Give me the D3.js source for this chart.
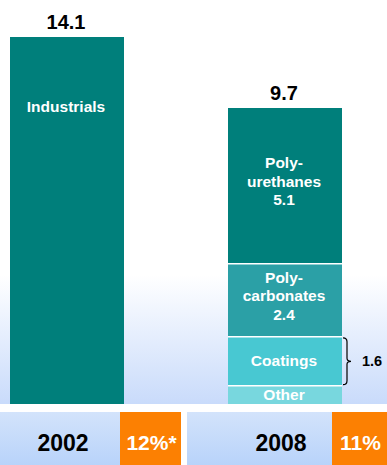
<!DOCTYPE html>
<html>
<head>
<meta charset="utf-8">
<script src="https://cdn.jsdelivr.net/npm/d3@7"></script>
<style>
  body { margin: 0; background: #fff; }
  svg { display: block; font-family: "Liberation Sans", Arial, sans-serif; font-weight: bold; }
</style>
</head>
<body>
<div id="chart-wrap"></div>
<script>
const years = ["2002", "2008"];
const totals = [14.1, 9.7];
const shares = ["12%*", "11%"];

// stacked from the bottom up
const names2002 = ["Industrials"];
const values2002 = [14.1];
const labels2002 = [["Industrials"]];

const names2008 = ["Other", "Coatings", "Polycarbonates", "Polyurethanes"];
const values2008 = [0.6, 1.6, 2.4, 5.1];
const labels2008 = [["Other"], ["Coatings"], ["Poly-", "carbonates", "2.4"], ["Poly-", "urethanes", "5.1"]];
const bracketValue = "1.6"; // Coatings

const width = 387;
const height = 465;
const base = 404;
const colors = {
  Industrials: "#007f7b",
  Polyurethanes: "#007f7b",
  Polycarbonates: "#2ba0a6",
  Coatings: "#48c8d2",
  Other: "#78d7de"
};

const svg = d3.select("#chart-wrap")
  .append("svg")
  .attr("width", width)
  .attr("height", height);

const defs = svg.append("defs");
const bg = defs.append("linearGradient").attr("id", "bg").attr("x1", 0).attr("y1", 0).attr("x2", 0).attr("y2", 1);
bg.append("stop").attr("offset", "0.68").attr("stop-color", "#ffffff");
bg.append("stop").attr("offset", "1").attr("stop-color", "#c9dbfb");
const band = defs.append("linearGradient").attr("id", "band").attr("x1", 0).attr("y1", 0).attr("x2", 0).attr("y2", 1);
band.append("stop").attr("offset", "0").attr("stop-color", "#d3e3fb");
band.append("stop").attr("offset", "1").attr("stop-color", "#b8d3fa");

svg.append("rect")
  .attr("x", 0).attr("y", 0)
  .attr("width", width).attr("height", base)
  .attr("fill", "url(#bg)");

// x positions of the bars
const x = d3.scaleBand()
  .domain(years)
  .range([10, 342])
  .paddingInner(104 / 218)
  .paddingOuter(0);

// each bar drawn against its own scale, as in the source slide
const yScales = {
  "2002": d3.scaleLinear().domain([0, totals[0]]).range([base, 37]),
  "2008": d3.scaleLinear().domain([0, totals[1]]).range([base, 108])
};

function stackOf(year, names, values, labels) {
  let acc = 0;
  return names.map((n, i) => {
    const d = { year: year, name: n, y0: acc, y1: acc + values[i], lines: labels[i] };
    acc += values[i];
    return d;
  });
}

const segs = stackOf("2002", names2002, values2002, labels2002)
  .concat(stackOf("2008", names2008, values2008, labels2008));

svg.append("g")
  .selectAll("rect")
  .data(segs)
  .join("rect")
  .attr("x", d => x(d.year))
  .attr("y", d => yScales[d.year](d.y1))
  .attr("width", x.bandwidth())
  .attr("height", d => yScales[d.year](d.y0) - yScales[d.year](d.y1))
  .attr("fill", d => colors[d.name]);

// white separators between stacked segments
svg.append("g")
  .selectAll("line")
  .data(segs.filter(d => d.y0 > 0))
  .join("line")
  .attr("x1", d => x(d.year))
  .attr("x2", d => x(d.year) + x.bandwidth())
  .attr("y1", d => yScales[d.year](d.y0))
  .attr("y2", d => yScales[d.year](d.y0))
  .attr("stroke", "#fff")
  .attr("stroke-width", 1.5);

// segment labels
const lineH = 18.5;
const segLabels = svg.append("g")
  .selectAll("text")
  .data(segs)
  .join("text")
  .attr("text-anchor", "middle")
  .attr("fill", "#fff")
  .attr("font-size", 15.5)
  .attr("transform", d => {
    const yy = yScales[d.year];
    const cx = x(d.year) + x.bandwidth() / 2 - 1;
    let cy;
    if (d.name === "Industrials") cy = yy(d.y1) + 75;
    else cy = (yy(d.y0) + yy(d.y1)) / 2 - (d.lines.length - 1) * lineH / 2 + 5 - (d.lines.length > 1 ? 4 : 0);
    return "translate(" + cx + "," + cy + ")";
  });
segLabels.selectAll("tspan")
  .data(d => d.lines)
  .join("tspan")
  .attr("x", 0)
  .attr("y", (l, i) => i * lineH)
  .text(l => l);

// totals above bars
svg.append("g")
  .selectAll("text")
  .data(years)
  .join("text")
  .attr("x", d => x(d) + x.bandwidth() / 2 - 1)
  .attr("y", (d, i) => yScales[d](totals[i]) - 8)
  .attr("text-anchor", "middle")
  .attr("font-size", 20)
  .attr("fill", "#000")
  .text((d, i) => d3.format(".1f")(totals[i]));

// bracket for Coatings
const coat = segs.find(d => d.name === "Coatings");
const yc = yScales[coat.year];
const bTop = yc(coat.y1) + 1, bBot = yc(coat.y0) - 1;
const bx = x(coat.year) + x.bandwidth() + 1;
const bMid = (bTop + bBot) / 2;
svg.append("path")
  .attr("d", `M${bx},${bTop} Q${bx + 4},${bTop} ${bx + 4},${bTop + 4} L${bx + 4},${bMid - 3} Q${bx + 4},${bMid} ${bx + 8},${bMid} Q${bx + 4},${bMid} ${bx + 4},${bMid + 3} L${bx + 4},${bBot - 4} Q${bx + 4},${bBot} ${bx},${bBot}`)
  .attr("fill", "none")
  .attr("stroke", "#000")
  .attr("stroke-width", 1.2);
svg.append("text")
  .attr("x", bx + 19)
  .attr("y", bMid + 5)
  .attr("font-size", 14.5)
  .attr("fill", "#000")
  .text(bracketValue);

// bottom band with years and shares
const bandBoxes = [[0, 181, 120], [187, 387, 332]];
const bandG = svg.append("g")
  .selectAll("g")
  .data(years)
  .join("g");
bandG.append("rect")
  .attr("x", (d, i) => bandBoxes[i][0])
  .attr("y", 412)
  .attr("width", (d, i) => bandBoxes[i][2] - bandBoxes[i][0])
  .attr("height", height - 412)
  .attr("fill", "url(#band)");
bandG.append("rect")
  .attr("x", (d, i) => bandBoxes[i][2])
  .attr("y", 412)
  .attr("width", (d, i) => bandBoxes[i][1] - bandBoxes[i][2])
  .attr("height", height - 412)
  .attr("fill", "#fc8002");
bandG.append("text")
  .attr("x", d => x(d) + x.bandwidth() / 2 - 4)
  .attr("y", 451)
  .attr("text-anchor", "middle")
  .attr("font-size", 23)
  .attr("fill", "#000")
  .text(d => d);
bandG.append("text")
  .attr("x", (d, i) => (bandBoxes[i][1] + bandBoxes[i][2]) / 2 + 1)
  .attr("y", 450)
  .attr("text-anchor", "middle")
  .attr("font-size", 21)
  .attr("fill", "#fff")
  .text((d, i) => shares[i]);
</script>
</body>
</html>
